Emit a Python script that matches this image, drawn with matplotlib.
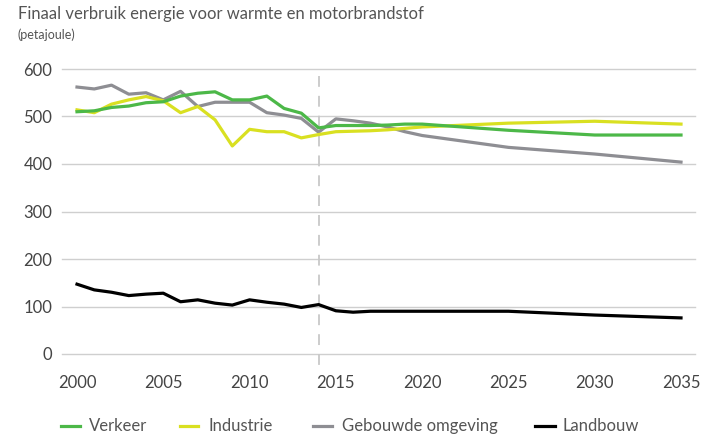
import matplotlib
matplotlib.use("Agg")
import matplotlib.pyplot as plt
from matplotlib.lines import Line2D

plt.rcParams['font.family'] = ['Lato', 'DejaVu Sans']

hist_years = list(range(2000, 2015))

verkeer_hist = [510, 512, 519, 522, 529, 531, 543, 549, 552, 535, 535, 543, 517, 507, 476]
industrie_hist = [514, 508, 526, 535, 542, 533, 508, 521, 493, 438, 473, 468, 468, 455, 462]
gebouwd_hist = [562, 558, 566, 547, 550, 535, 553, 521, 530, 530, 530, 508, 503, 496, 467]
landbouw_hist = [147, 135, 130, 123, 126, 128, 110, 114, 107, 103, 114, 109, 105, 98, 104]

proj_years = [2014, 2015, 2016, 2017, 2018, 2019, 2020, 2025, 2030, 2035]
verkeer_proj = [476, 481, 481, 481, 482, 484, 484, 471, 461, 461]
industrie_proj = [462, 468, 469, 470, 472, 475, 478, 486, 490, 484]
gebouwd_proj = [467, 495, 491, 486, 478, 468, 460, 435, 421, 404]
landbouw_proj = [104, 91, 88, 90, 90, 90, 90, 90, 82, 76]

series_names = ["Verkeer", "Industrie", "Gebouwde omgeving", "Landbouw"]
colors = ["#4cb848", "#d9e021", "#8e8e93", "#000000"]
x_ticks = [2000, 2005, 2010, 2015, 2020, 2025, 2030, 2035]
y_ticks = [0, 100, 200, 300, 400, 500, 600]

W, H = 706, 438
fig = plt.figure(figsize=(W / 100, H / 100), dpi=100)
left, right, top, bottom = 62, 695, 69, 354
ax = fig.add_axes([left / W, 1 - bottom / H, (right - left) / W, (bottom - top) / H])

px_per_year = (681 - 77) / 35.0
ax.set_xlim(2000 - (77 - left) / px_per_year, 2035 + (right - 681) / px_per_year)
ax.set_ylim(0, 600)

for yv in y_ticks:
    ax.axhline(yv, color="#cfcfcf", lw=1.0, zorder=0, clip_on=False)

ax.plot([2014, 2014], [585, -23], color="#c8c8c8", lw=1.3, ls=(0, (6, 5)), clip_on=False, zorder=1)

hist = [verkeer_hist, industrie_hist, gebouwd_hist, landbouw_hist]
proj = [verkeer_proj, industrie_proj, gebouwd_proj, landbouw_proj]
order = [2, 1, 0, 3]
for i in order:
    xs = hist_years + proj_years[1:]
    ys = hist[i] + proj[i][1:]
    ax.plot(xs, ys, color=colors[i], lw=2.3, solid_joinstyle="round", zorder=3 + (1 if i == 0 else 0))

for s in ax.spines.values():
    s.set_visible(False)
ax.set_xticks(x_ticks)
ax.set_yticks(y_ticks)
ax.tick_params(length=0, colors="#444444", labelsize=12)
ax.tick_params(axis="y", pad=7)
ax.tick_params(axis="x", pad=15)

fig.text(18 / W, 1 - 14 / H, "Finaal verbruik energie voor warmte en motorbrandstof",
         fontsize=12, color="#555555", va="center", ha="left")
fig.text(17 / W, 1 - 35 / H, "(petajoule)", fontsize=9, color="#555555", va="center", ha="left")

leg_y = 1 - 426 / H
leg_items = [(61, 80, 89), (180, 198, 208), (313, 332, 342), (535, 555, 563)]
for (x0, x1, xt), name, c in zip(leg_items, series_names, colors):
    fig.add_artist(Line2D([x0 / W, x1 / W], [leg_y, leg_y], color=c, lw=2.3, transform=fig.transFigure))
    fig.text(xt / W, leg_y, name, fontsize=12, color="#555555", va="center", ha="left")

fig.savefig("out.png", dpi=100)
